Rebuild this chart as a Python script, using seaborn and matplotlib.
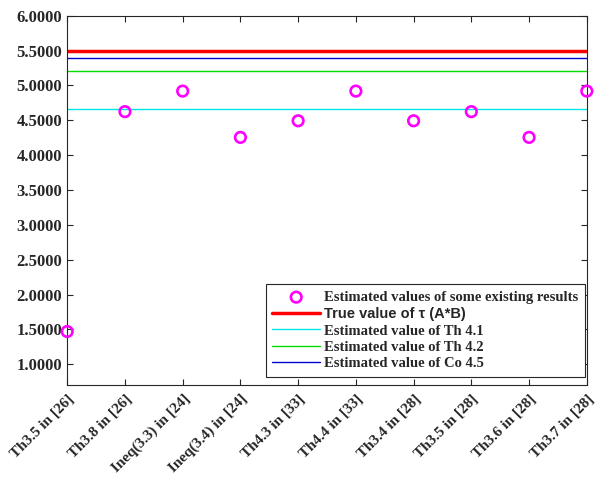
import numpy as np
import matplotlib
matplotlib.use("Agg")
import matplotlib.pyplot as plt
import seaborn as sns

# data
labels = ["Th3.5 in [26]", "Th3.8 in [26]", "Ineq(3.3) in [24]", "Ineq(3.4) in [24]",
          "Th4.3 in [33]", "Th4.4 in [33]", "Th3.4 in [28]", "Th3.5 in [28]",
          "Th3.6 in [28]", "Th3.7 in [28]"]
existing = [1.4693, 4.6247, 4.9196, 4.2552, 4.4934, 4.9196, 4.4934, 4.6247, 4.2552, 4.9196]
true_value = 5.5
th41 = 4.664
th42 = 5.21
co45 = 5.40

sns.set_style("ticks")
plt.rcParams['font.family'] = ['Liberation Serif', 'DejaVu Serif']
plt.rcParams['font.weight'] = 'bold'

fig = plt.figure(figsize=(6, 4.79), dpi=100)
ax = fig.add_axes([0.112, 0.196, 0.866, 0.771])

x = np.arange(1, len(labels) + 1)
sns.scatterplot(x=x, y=existing, ax=ax, marker='o', s=58, facecolors='none',
                edgecolor='#ff00ff', linewidth=1.9, clip_on=False, zorder=5,
                label="Estimated values of some existing results")
ax.axhline(true_value, color='#ff0000', lw=2.5, label="True value of \u03c4 (A*B)")
ax.axhline(th41, color='#00e5e5', lw=1, label="Estimated value of Th 4.1")
ax.axhline(th42, color='#00dd00', lw=1, label="Estimated value of Th 4.2")
ax.axhline(co45, color='#0000cc', lw=1, label="Estimated value of Co 4.5")

ax.set_xlim(1, 10)
ax.set_ylim(0.7, 6.0)
ax.set_xticks(x)
ax.set_xticklabels(labels, rotation=45, ha='right', rotation_mode='anchor',
                   fontsize=11, fontweight='bold')
yt = np.arange(1.0, 6.01, 0.5)
ax.set_yticks(yt)
ax.set_yticklabels([f"{v:.4f}" for v in yt], fontsize=12, fontweight='bold')
ax.tick_params(direction='in', top=True, right=True, length=4, color='#262626',
               labelcolor='#262626')
ax.tick_params(axis='x', pad=5)
for s in ax.spines.values():
    s.set_color('#262626')
    s.set_linewidth(0.8)

# legend sits in the lower right corner, as in the original
leg = ax.legend(loc='lower right', bbox_to_anchor=(0.996, 0.022), fontsize=10.5,
                frameon=True, fancybox=False, edgecolor='#262626', framealpha=1,
                borderaxespad=0, borderpad=0.45, handlelength=3.3,
                labelspacing=0.22, handletextpad=0.25)
leg.get_frame().set_linewidth(0.8)
for t in leg.get_texts():
    t.set_fontweight('bold')
leg.get_texts()[1].set_family(['Liberation Sans', 'DejaVu Sans'])

fig.savefig("out.png", dpi=100)
